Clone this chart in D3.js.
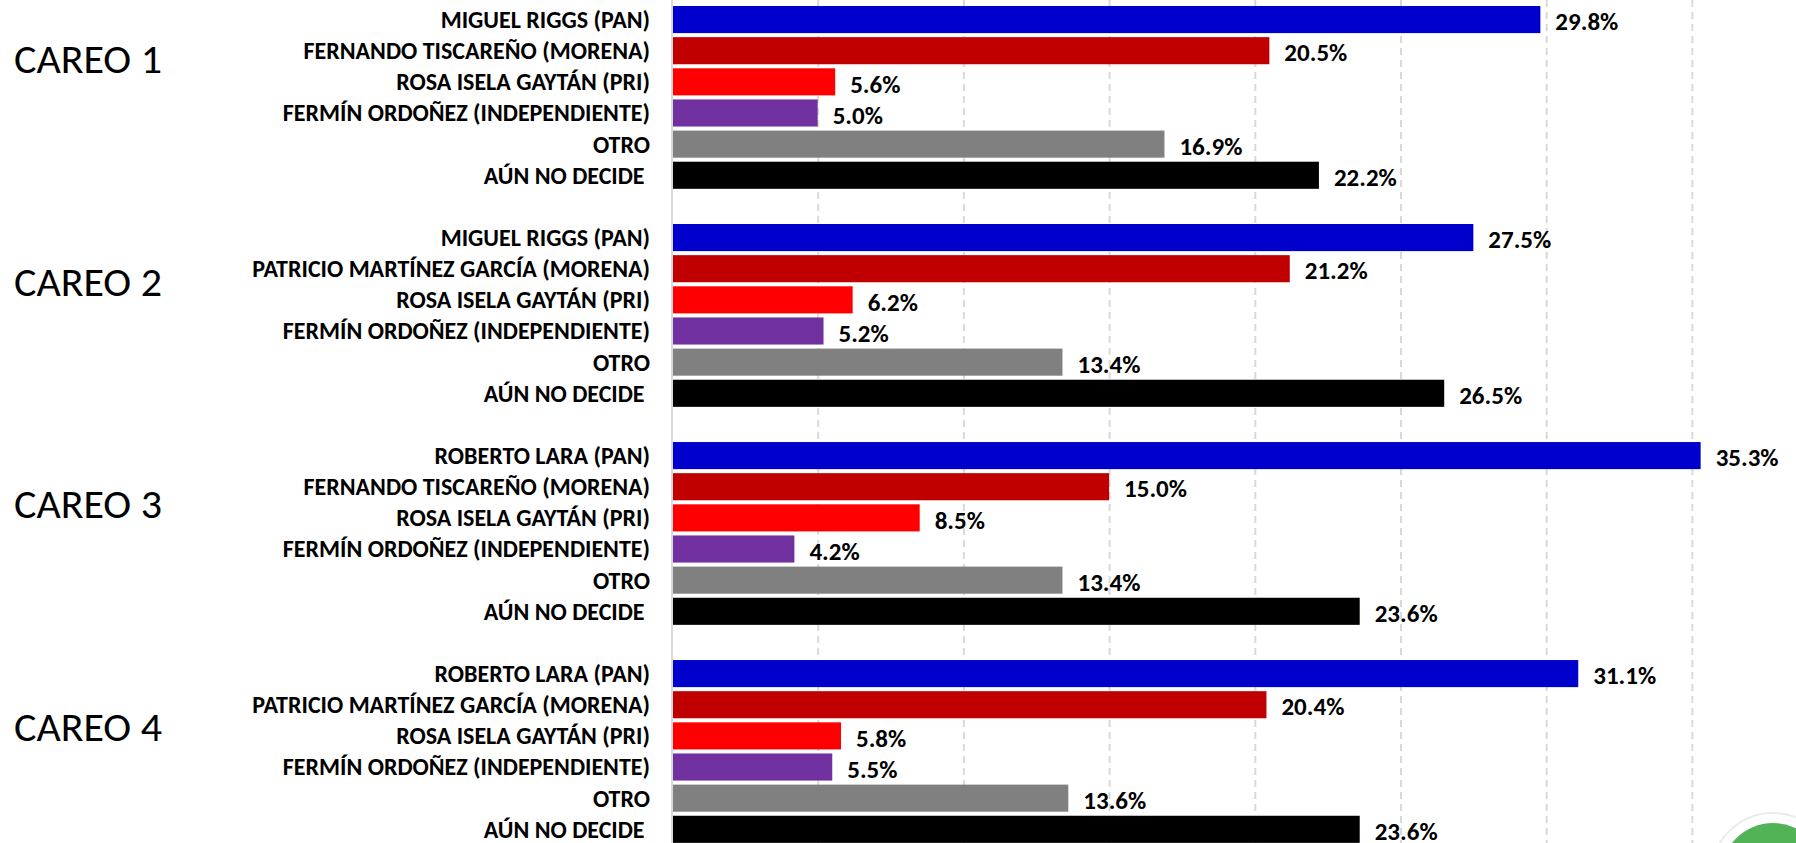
<!DOCTYPE html>
<html>
<head>
<meta charset="utf-8">
<script src="https://cdn.jsdelivr.net/npm/d3@7"></script>
<style>
  body { margin: 0; background: #fff; }
  svg { display: block; }
  .careo { font-family: Carlito, Calibri, Lato, sans-serif; font-size: 42px; fill: #000; }
  .cand { font-family: Carlito, Calibri, Lato, sans-serif; font-weight: bold; font-size: 24px; fill: #000; white-space: pre; }
  .val { font-family: Carlito, Calibri, Lato, sans-serif; font-weight: bold; font-size: 25px; fill: #000; }
  .grid line { stroke: #d9d9d9; stroke-width: 2; stroke-dasharray: 7 5; }
</style>
</head>
<body>
<svg id="chart" width="1796" height="843"></svg>
<script>
// datos de los careos
var careos = ["CAREO 1", "CAREO 2", "CAREO 3", "CAREO 4"];

var candidatosCareo1 = ["MIGUEL RIGGS (PAN)", "FERNANDO TISCAREÑO (MORENA)", "ROSA ISELA GAYTÁN (PRI)", "FERMÍN ORDOÑEZ (INDEPENDIENTE)", "OTRO", "AÚN NO DECIDE "];
var candidatosCareo2 = ["MIGUEL RIGGS (PAN)", "PATRICIO MARTÍNEZ GARCÍA (MORENA)", "ROSA ISELA GAYTÁN (PRI)", "FERMÍN ORDOÑEZ (INDEPENDIENTE)", "OTRO", "AÚN NO DECIDE "];
var candidatosCareo3 = ["ROBERTO LARA (PAN)", "FERNANDO TISCAREÑO (MORENA)", "ROSA ISELA GAYTÁN (PRI)", "FERMÍN ORDOÑEZ (INDEPENDIENTE)", "OTRO", "AÚN NO DECIDE "];
var candidatosCareo4 = ["ROBERTO LARA (PAN)", "PATRICIO MARTÍNEZ GARCÍA (MORENA)", "ROSA ISELA GAYTÁN (PRI)", "FERMÍN ORDOÑEZ (INDEPENDIENTE)", "OTRO", "AÚN NO DECIDE "];

var valoresCareo1 = [29.8, 20.5, 5.6, 5.0, 16.9, 22.2];
var valoresCareo2 = [27.5, 21.2, 6.2, 5.2, 13.4, 26.5];
var valoresCareo3 = [35.3, 15.0, 8.5, 4.2, 13.4, 23.6];
var valoresCareo4 = [31.1, 20.4, 5.8, 5.5, 13.6, 23.6];

var colores = ["#0000CC", "#C00000", "#FF0000", "#7030A0", "#808080", "#000000"];
var ticksX = [5, 10, 15, 20, 25, 30, 35];

var candidatos = [candidatosCareo1, candidatosCareo2, candidatosCareo3, candidatosCareo4];
var valores = [valoresCareo1, valoresCareo2, valoresCareo3, valoresCareo4];

// filas: 6 barras por careo + una fila vacia de separacion
var filas = [], slots = [];
careos.forEach(function(c, g) {
    candidatos[g].forEach(function(nombre, i) {
        var key = g + "-" + i;
        slots.push(key);
        filas.push({ careo: g, idx: i, key: key, nombre: nombre, valor: valores[g][i] });
    });
    slots.push(g + "-gap");
});

var svg = d3.select("#chart"),
    width = +svg.attr("width"),
    height = +svg.attr("height");

var x0 = 672;
var x = d3.scaleLinear().domain([0, 40]).range([x0, x0 + 40 * 29.14]);
var y = d3.scaleBand().domain(slots).range([6, 874]).paddingInner(0.13).paddingOuter(0);
// los titulos de careo van un poco mas espaciados que los grupos
var yCareo = d3.scalePoint().domain(careos).range([73, 741]);

// lineas guia
svg.append("g")
   .attr("class", "grid")
   .call(d3.axisBottom(x).tickValues(ticksX).tickSize(height).tickFormat(""))
   .call(function(g) { g.select(".domain").remove(); });

// eje vertical
svg.append("line")
   .attr("x1", x(0)).attr("x2", x(0))
   .attr("y1", 0).attr("y2", height)
   .attr("stroke", "#d9d9d9")
   .attr("stroke-width", 2);

// barras
svg.selectAll(".bar")
   .data(filas)
   .enter().append("rect")
   .attr("class", "bar")
   .attr("x", x(0) + 1)
   .attr("y", function(d) { return y(d.key); })
   .attr("width", function(d) { return x(d.valor) - x(0) - 1; })
   .attr("height", y.bandwidth())
   .attr("fill", function(d) { return colores[d.idx]; });

// nombres
svg.selectAll(".cand")
   .data(filas)
   .enter().append("text")
   .attr("class", "cand")
   .attr("x", x(0) - 22)
   .attr("y", function(d) { return y(d.key) + y.bandwidth() / 2; })
   .attr("dy", "0.35em")
   .attr("text-anchor", "end")
   .text(function(d) { return d.nombre; });

// porcentajes
svg.selectAll(".val")
   .data(filas)
   .enter().append("text")
   .attr("class", "val")
   .attr("x", function(d) { return x(d.valor) + 15; })
   .attr("y", function(d) { return y(d.key) + y.bandwidth() / 2 + 2; })
   .attr("dy", "0.35em")
   .text(function(d) { return d.valor.toFixed(1) + "%"; });

// titulo de cada careo
svg.selectAll(".careo")
   .data(careos)
   .enter().append("text")
   .attr("class", "careo")
   .attr("x", 14)
   .attr("y", function(d) { return yCareo(d); })
   .text(function(d) { return d; });

// logo (esquina inferior derecha)
svg.append("circle")
   .attr("cx", 1773).attr("cy", 875).attr("r", 62)
   .attr("fill", "#fff").attr("stroke", "#ebebeb").attr("stroke-width", 2);
svg.append("circle")
   .attr("cx", 1773).attr("cy", 875).attr("r", 52)
   .attr("fill", "#52b356");
</script>
</body>
</html>
